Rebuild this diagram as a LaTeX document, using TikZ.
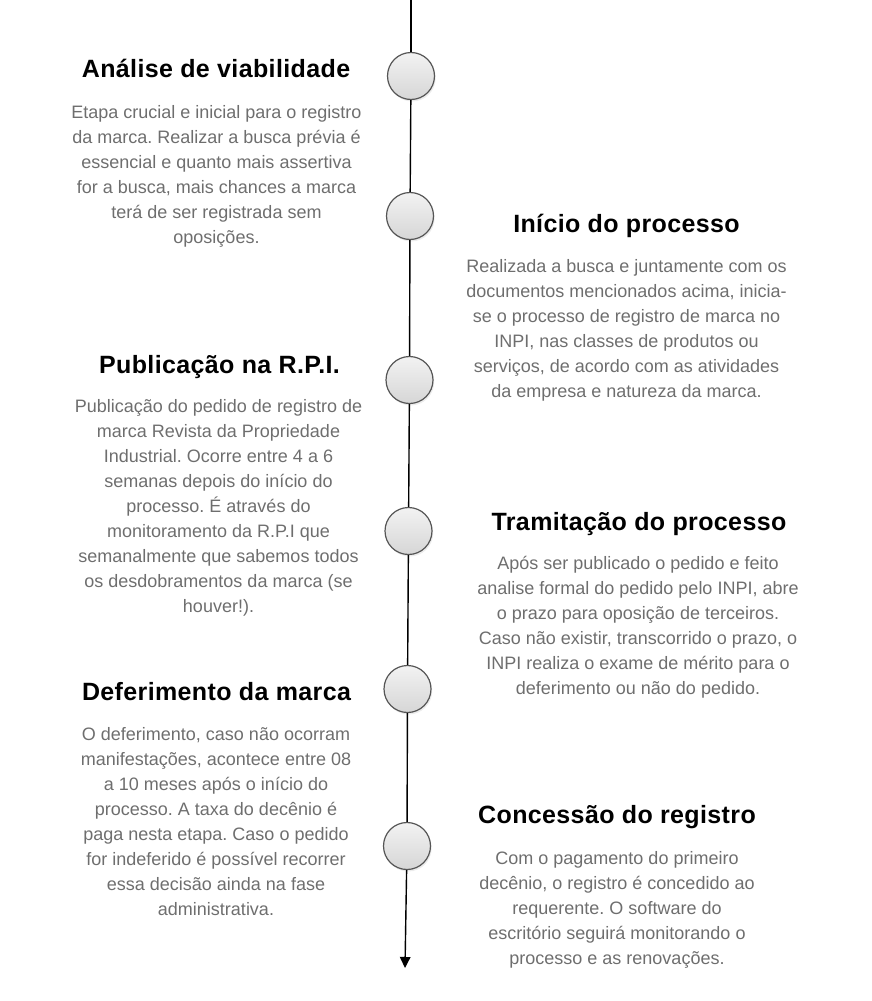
\documentclass[tikz,border=0pt]{standalone}
\usepackage{fontspec}
\setmainfont{Liberation Sans}
\newfontfamily\ttlfont[LetterSpace=1.5]{Liberation Sans}
\usetikzlibrary{arrows.meta,shadows}
\definecolor{bodygray}{RGB}{110,110,110}
\definecolor{ringgray}{RGB}{85,85,85}
\frenchspacing
\begin{document}
\begin{tikzpicture}[x=1pt,y=-1pt,
  stepcircle/.style={circle, minimum size=47pt, inner sep=0pt, draw=ringgray, line width=1.2pt,
    top color=gray!10, bottom color=gray!32,
    drop shadow={shadow xshift=1.2pt, shadow yshift=-2pt, opacity=0.15}},
  ttl/.style={font=\ttlfont\fontsize{25}{29}\selectfont\bfseries, text=black, anchor=base, inner sep=0pt},
  bodytxt/.style={font=\fontsize{18}{25}\selectfont\frenchspacing, text=bodygray, align=center, anchor=base, inner sep=0pt},
  axis/.style={line width=1.4pt, draw=black}]
\useasboundingbox (0,0) rectangle (872,1001);

% circles
\node[stepcircle] (c1) at (411,76) {};
\node[stepcircle] (c2) at (410,216) {};
\node[stepcircle] (c3) at (409.5,380) {};
\node[stepcircle] (c4) at (408.5,531) {};
\node[stepcircle] (c5) at (407.5,689) {};
\node[stepcircle] (c6) at (407,846) {};
\coordinate (top) at (411,0);
\coordinate (bot) at (405,968);

\draw[axis] (top) -- (c1);
\draw[axis] (c1) -- (c2);
\draw[axis] (c2) -- (c3);
\draw[axis] (c3) -- (c4);
\draw[axis] (c4) -- (c5);
\draw[axis] (c5) -- (c6);
\draw[axis, -{Triangle[length=11pt,width=10.5pt]}] (c6) -- (bot);

% step 1 (body anchored at the baseline of its last line)
\node[ttl] (t1) at (216,77) {Análise de viabilidade};
\node[bodytxt] (b1) at (216.5,243) {Etapa crucial e inicial para o registro\\da marca. Realizar a busca prévia é\\essencial e quanto mais assertiva\\for a busca, mais chances a marca\\terá de ser registrada sem\\oposições.};

% step 2
\node[ttl] (t2) at (626.5,232) {Início do processo};
\node[bodytxt] (b2) at (626.5,397) {Realizada a busca e juntamente com os\\documentos mencionados acima, inicia-\\se o processo de registro de marca no\\INPI, nas classes de produtos ou\\serviços, de acordo com as atividades\\da empresa e natureza da marca.};

% step 3
\node[ttl] (t3) at (219.5,373) {Publicação na R.P.I.};
\node[bodytxt] (b3) at (218.5,612) {Publicação do pedido de registro de\\marca Revista da Propriedade\\Industrial. Ocorre entre 4 a 6\\semanas depois do início do\\processo. É através do\\monitoramento da R.P.I que\\semanalmente que sabemos todos\\os desdobramentos da marca (se\\houver!).};

% step 4
\node[ttl] (t4) at (639,530) {Tramitação do processo};
\node[bodytxt] (b4) at (638,694) {Após ser publicado o pedido e feito\\analise formal do pedido pelo INPI, abre\\o prazo para oposição de terceiros.\\Caso não existir, transcorrido o prazo, o\\INPI realiza o exame de mérito para o\\deferimento ou não do pedido.};

% step 5
\node[ttl] (t5) at (216.5,700) {Deferimento da marca};
\node[bodytxt] (b5) at (216,915) {O deferimento, caso não ocorram\\manifestações, acontece entre 08\\a 10 meses após o início do\\processo. A taxa do decênio é\\paga nesta etapa. Caso o pedido\\for indeferido é possível recorrer\\essa decisão ainda na fase\\administrativa.};

% step 6
\node[ttl] (t6) at (617,823) {Concessão do registro};
\node[bodytxt] (b6) at (617,964) {Com o pagamento do primeiro\\decênio, o registro é concedido ao\\requerente. O software do\\escritório seguirá monitorando o\\processo e as renovações.};
\end{tikzpicture}
\end{document}
